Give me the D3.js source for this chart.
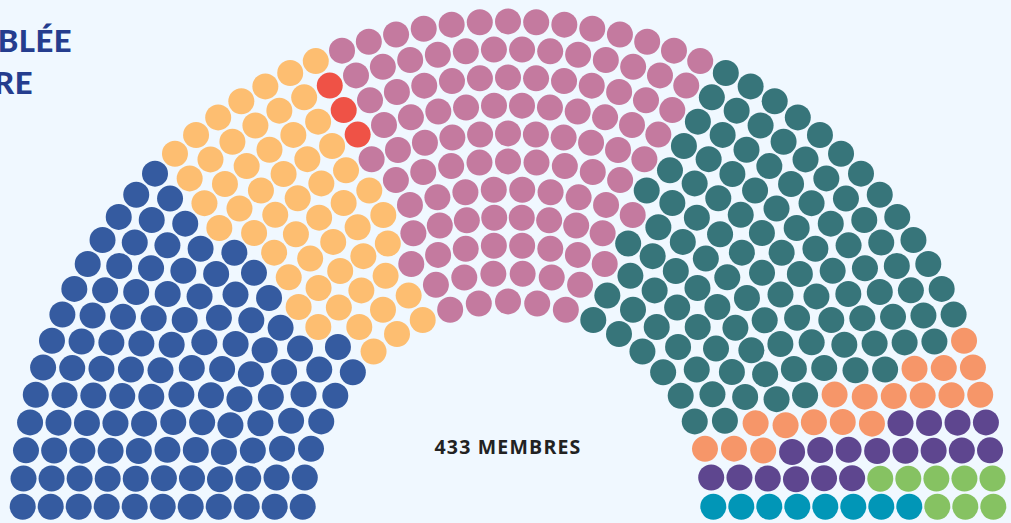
<!DOCTYPE html>
<html lang="fr">
<head>
<meta charset="utf-8">
<script src="https://cdn.jsdelivr.net/npm/d3@7"></script>
<style>
  html, body { margin: 0; padding: 0; background: #f0f8ff; overflow: hidden; }
</style>
</head>
<body>
<div id="chart-container"></div>
<script>
// Groupes de gauche à droite et nombre de sièges
const groups = ["bleu", "orange clair", "rouge", "rose", "vert canard", "saumon", "violet", "vert", "cyan"];
const seats = [108, 55, 3, 106, 109, 18, 18, 8, 8];
const colors = ["#355ba0", "#fdbe71", "#ef5246", "#c47a9f", "#37757a", "#f69669", "#5e468f", "#86c262", "#0196b7"];
// Sièges par rangée, de l'intérieur vers l'extérieur
const rowSeats = [23, 26, 30, 34, 36, 39, 43, 46, 49, 52, 55];
const titleLines = ["ASSEMBLÉE", "LÉGISLATURE"];
const totalLabel = "433 MEMBRES";

const width = 1011, height = 523;
const cx = 508, cy = 506.7;
const seatRadius = 13;

const svg = d3.select("#chart-container")
    .append("svg")
    .attr("width", width)
    .attr("height", height)
    .style("font-family", "Lato, 'Open Sans', sans-serif");

svg.append("rect")
    .attr("width", width)
    .attr("height", height)
    .attr("fill", "#f0f8ff");

// Rayon de chaque rangée
const radius = d3.scaleLinear()
    .domain([0, rowSeats.length - 1])
    .range([205.3, 485.3]);

// Positions des sièges
const points = [];
rowSeats.forEach((n, row) => {
    const angle = d3.scaleLinear().domain([0, n - 1]).range([0, Math.PI]);
    d3.range(n).forEach(j => {
        points.push({ row, r: radius(row), phi: angle(j) });
    });
});
// Tri par angle ; à égalité, l'intérieur d'abord sauf sur la base droite
points.sort((a, b) => {
    if (Math.abs(a.phi - b.phi) > 1e-9) return a.phi - b.phi;
    return Math.abs(a.phi - Math.PI) < 1e-9 ? b.r - a.r : a.r - b.r;
});

// Attribution des groupes dans l'ordre des angles
const color = d3.scaleOrdinal().domain(groups).range(colors);
let k = 0;
groups.forEach((g, i) => {
    for (let s = 0; s < seats[i]; s++) points[k++].group = g;
});

svg.append("g")
    .selectAll("circle")
    .data(points)
    .join("circle")
    .attr("cx", d => cx - d.r * Math.cos(d.phi))
    .attr("cy", d => cy - d.r * Math.sin(d.phi))
    .attr("r", seatRadius)
    .attr("fill", d => color(d.group));

// Titre (coupé par le bord gauche)
svg.append("g")
    .selectAll("text")
    .data(titleLines)
    .join("text")
    .attr("x", (d, i) => i === 0 ? 72 : 33)
    .attr("y", (d, i) => 52 + i * 42)
    .attr("text-anchor", "end")
    .style("font-size", "31px")
    .style("font-weight", "900")
    .style("letter-spacing", "0.5px")
    .attr("fill", "#253d8e")
    .text(d => d);

svg.append("text")
    .attr("x", cx)
    .attr("y", 454)
    .attr("text-anchor", "middle")
    .style("font-family", "'Open Sans', sans-serif")
    .style("font-size", "19.5px")
    .style("font-weight", "bold")
    .style("letter-spacing", "1.2px")
    .attr("fill", "#222")
    .text(totalLabel);
</script>
</body>
</html>
